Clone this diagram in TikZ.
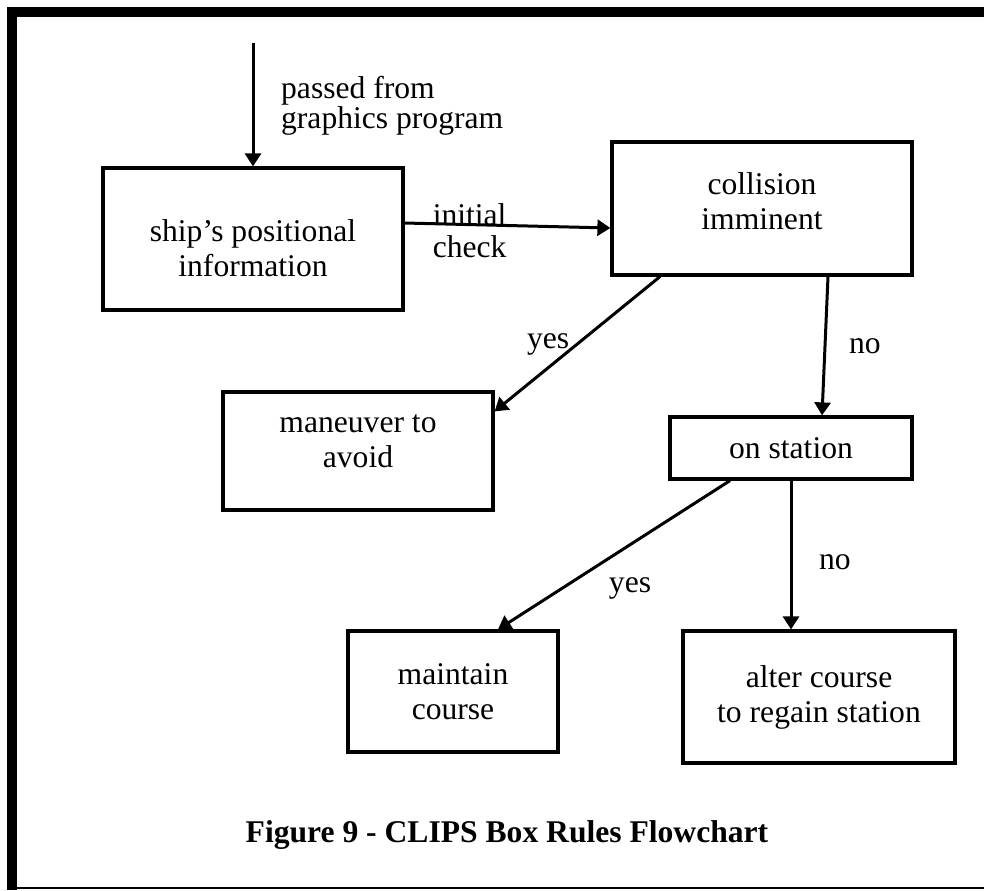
\documentclass[tikz,border=0pt]{standalone}
\usepackage{fontspec}
\setmainfont{Liberation Serif}
\usetikzlibrary{arrows.meta}

\begin{document}
\begin{tikzpicture}[x=0.5pt,y=-0.5pt,
	every node/.style={font=\fontsize{15.8}{17.5}\selectfont},
	box/.style={rectangle, draw, line width=1.6pt, align=center, inner sep=0pt},
	flow/.style={-{Triangle[length=6.5pt,width=8pt]}, line width=1.5pt}]

	\useasboundingbox (0,0) rectangle (984,890);

	% outer frame
	\draw[line width=5pt]	(984,12) -- (12,12) -- (12,890);
	\draw[line width=1pt]	(12,888) -- (984,888);


	\coordinate	(e0)	at	(253,43);

	\node 	(ship)		at	(253,239) 	[box, minimum width=150pt, minimum height=71pt, text height=38pt]{ship’s positional\\information};

	\node 	(coll)		at	(762,208.5) 	[box, minimum width=150pt, minimum height=66.5pt, text depth=7pt]{collision\\imminent};

	\node 	(avoid)		at	(358,451) 	[box, minimum width=135pt, minimum height=59pt, text depth=10pt]{maneuver to\\avoid};

	\node 	(stat)		at	(791,448) 	[box, minimum width=121pt, minimum height=31pt]{on station};

	\node 	(keep)		at	(453,691.5) 	[box, minimum width=105pt, minimum height=60.5pt]{maintain\\course};

	\node 	(alter)		at	(819,697) 	[box, minimum width=136pt, minimum height=66pt]{alter course\\to regain station};

	\node 	(cap)		at	(507,835) 	[font=\fontsize{15.8}{17.5}\selectfont\bfseries]{Figure 9 - CLIPS Box Rules Flowchart};


	\draw[flow]	(e0)	to	node[pos=0.51, right=10pt, align=left, font=\fontsize{15.8}{12.8}\selectfont]{passed from\\graphics program}	(ship);
	\draw[flow]	([yshift=8pt]ship.east)	to	node[pos=0.316, align=left, yshift=-2.9pt, font=\fontsize{15.8}{16}\selectfont]{initial\\check}	([yshift=-9.75pt]coll.west);

	\draw[flow]	([xshift=-51pt]coll.south)	to	node[pos=0.5, left]{yes}	([yshift=-10.5pt]avoid.north east);
	\draw[flow]	([xshift=33pt]coll.south)	to	node[pos=0.5, right=8pt]{no}	([xshift=15.5pt]stat.north);

	\draw[flow]	([xshift=-30.5pt]stat.south)	to	node[pos=0.6, below right, xshift=5pt]{yes}	([xshift=22.5pt]keep.north);
	\draw[flow]	(stat.south)	to	node[pos=0.55, right=10pt]{no}	(stat.south |- alter.north);


\end{tikzpicture}
\end{document}
